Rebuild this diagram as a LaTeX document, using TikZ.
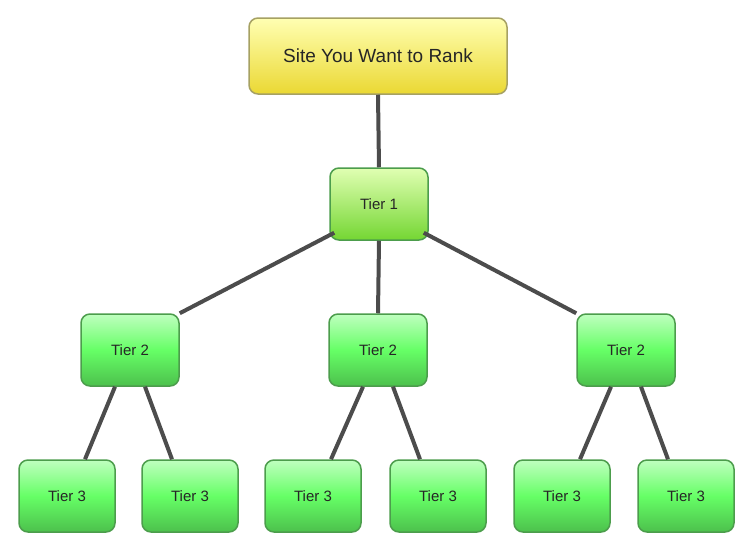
\documentclass[tikz,border=0pt]{standalone}
\usepackage{fontspec}
\setmainfont{Liberation Sans}
\begin{document}
\begin{tikzpicture}[x=1pt,y=-1pt,
 box/.style={draw=green!45!black!70,line width=1.5pt,rounded corners=9pt,minimum width=96pt,minimum height=72pt,inner sep=0pt,top color=green!25!white,bottom color=green!65!black!70!white,middle color=green!60!white,font=\fontsize{15}{18}\selectfont,text=black!85},
 one/.style={box,top color=yellow!60!green!30!white,middle color=yellow!50!green!60!white,bottom color=yellow!40!green!80!black!80!white},
 top/.style={box,minimum width=258pt,minimum height=76pt,draw=yellow!50!black!80,top color=yellow!30!white,middle color=yellow!85!white,bottom color=yellow!80!orange!90!black!80!white,font=\fontsize{19}{22}\selectfont},
 link/.style={draw=black!70,line width=4pt}]
\useasboundingbox (0,0) rectangle (750,550);
\node[top] (s) at (378,56) {Site You Want to Rank};
\node[one,minimum width=98pt] (t1) at (379,204) {Tier 1};
\node[box,minimum width=98pt] (a) at (130,350) {Tier 2};
\node[box,minimum width=98pt] (b) at (378,350) {Tier 2};
\node[box,minimum width=98pt] (c) at (626,350) {Tier 2};
\node[box] (a1) at (67,496) {Tier 3};
\node[box] (a2) at (190,496) {Tier 3};
\node[box] (b1) at (313,496) {Tier 3};
\node[box] (b2) at (438,496) {Tier 3};
\node[box] (c1) at (562,496) {Tier 3};
\node[box] (c2) at (686,496) {Tier 3};
\begin{scope}[on background layer/.style={}]
\end{scope}
\draw[link] (s.south) -- (t1.north);
\draw[link] (t1.south west) ++(5,-8) coordinate (p1) -- (a.north east);
\draw[link] (t1.south) -- (b.north);
\draw[link] (t1.south east) ++(-5,-8) coordinate (p2) -- (c.north west);
\foreach \p/\l/\r in {a/a1/a2,b/b1/b2,c/c1/c2}{
 \draw[link] ([xshift=-15pt]\p.south) -- ([xshift=18pt]\l.north);
 \draw[link] ([xshift=15pt]\p.south) -- ([xshift=-18pt]\r.north);
}
\end{tikzpicture}
\end{document}
